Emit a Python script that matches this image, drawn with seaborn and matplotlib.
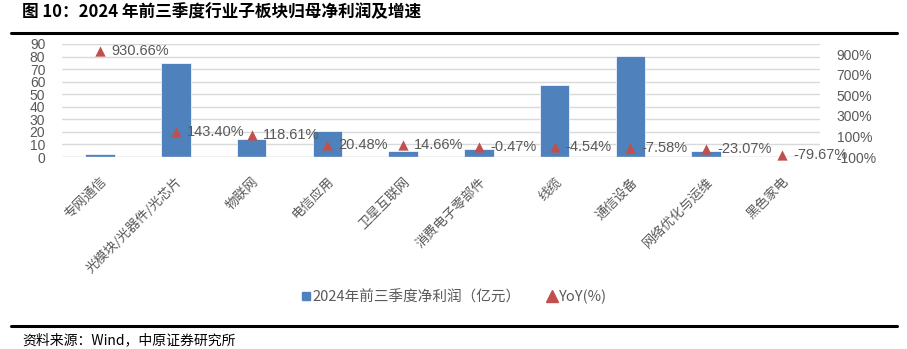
import matplotlib
matplotlib.use("Agg")
import matplotlib.pyplot as plt
import seaborn as sns
import pandas as pd
from matplotlib.lines import Line2D

sns.set_theme(style="white")
plt.rcParams['font.family'] = ['Noto Sans CJK SC', 'DejaVu Sans']

categories = ["专网通信", "光模块/光器件/光芯片", "物联网", "电信应用", "卫星互联网",
              "消费电子零部件", "线缆", "通信设备", "网络优化与运维", "黑色家电"]
profit = [2.2, 75.0, 14.0, 20.8, 4.5, 6.4, 57.7, 80.5, 4.5, 0.3]
yoy = [930.66, 143.40, 118.61, 20.48, 14.66, -0.47, -4.54, -7.58, -23.07, -79.67]

bar_label = "2024年前三季度净利润（亿元）"
line_label = "YoY(%)"
title = "图 10：2024 年前三季度行业子板块归母净利润及增速"
source = "资料来源：Wind，中原证券研究所"

df = pd.DataFrame({"cat": categories, "profit": profit, "yoy": yoy})

BLUE = "#4F81BD"
RED = "#C0504D"
GRAY = "#595959"
LATIN = ["Liberation Sans", "DejaVu Sans"]

fig = plt.figure(figsize=(9.07, 3.49), dpi=100)
ax = fig.add_axes([0.0684, 0.5501, 0.904 - 0.0684, 0.874 - 0.5501])

sns.barplot(data=df, x="cat", y="profit", order=categories, color=BLUE,
            width=0.39, saturation=1, ax=ax, edgecolor="white", linewidth=0.5)
ax.set_ylim(0, 90)
ax.set_yticks(range(0, 91, 10))
ax.set_xlim(-0.5, len(categories) - 0.5)
ax.yaxis.grid(True, color="#D9D9D9", linewidth=1)
ax.set_axisbelow(True)
for s in ax.spines.values():
    s.set_visible(False)
ax.axhline(0, color="#D9D9D9", linewidth=1, zorder=1)
ax.set_xlabel("")
ax.set_ylabel("")
ax.tick_params(axis="y", labelsize=10, labelcolor=GRAY, length=0, pad=12)
ax.tick_params(axis="x", length=0, pad=13)
ax.set_xticks(range(len(categories)))
ax.set_xticklabels(categories, rotation=45, ha="right", rotation_mode="anchor",
                   fontsize=9.5, color=GRAY)
for lbl in ax.get_yticklabels():
    lbl.set_family(LATIN)

ax2 = ax.twinx()
sns.scatterplot(data=df, x="cat", y="yoy", marker="^", color=RED, s=55,
                edgecolor=RED, linewidth=0, ax=ax2, zorder=5, clip_on=False)
ax2.set_ylim(-100, 1000)
ax2.set_yticks(range(-100, 1000, 200))
ax2.set_yticklabels([f"{v}%" for v in range(-100, 1000, 200)])
ax2.set_xlim(-0.5, len(categories) - 0.5)
ax2.set_ylabel("")
ax2.set_xlabel("")
for s in ax2.spines.values():
    s.set_visible(False)
ax2.tick_params(axis="y", labelsize=10, labelcolor=GRAY, length=0, pad=12)
for lbl in ax2.get_yticklabels():
    lbl.set_family(LATIN)

for i, v in enumerate(yoy):
    ax2.annotate(f"{v:.2f}%", (i, v), xytext=(8, 0), textcoords="offset points",
                 ha="left", va="center", fontsize=10.5, color=GRAY,
                 family=LATIN, zorder=6, annotation_clip=False)

handles = [
    Line2D([], [], marker="s", linestyle="none", color=BLUE, markersize=6),
    Line2D([], [], marker="^", linestyle="none", color=RED, markersize=8),
]
fig.legend(handles, [bar_label, line_label], loc="center",
           bbox_to_anchor=(0.5, 1 - 297 / 349), ncol=2, frameon=False,
           fontsize=10.5, labelcolor=GRAY, handletextpad=0.05, columnspacing=1.8,
           handlelength=0.8)

fig.text(22 / 907, 1 - 12 / 349, title, fontsize=12, fontweight="bold",
         va="center", ha="left", color="black")
fig.add_artist(Line2D([11 / 907, 897 / 907], [1 - 33 / 349] * 2,
                      color="black", linewidth=2.2))
fig.add_artist(Line2D([11 / 907, 897 / 907], [1 - 326 / 349] * 2,
                      color="black", linewidth=2.2))
fig.text(22 / 907, 1 - 340 / 349, source, fontsize=10, va="center",
         ha="left", color="black")

fig.savefig("out.png", dpi=100)
